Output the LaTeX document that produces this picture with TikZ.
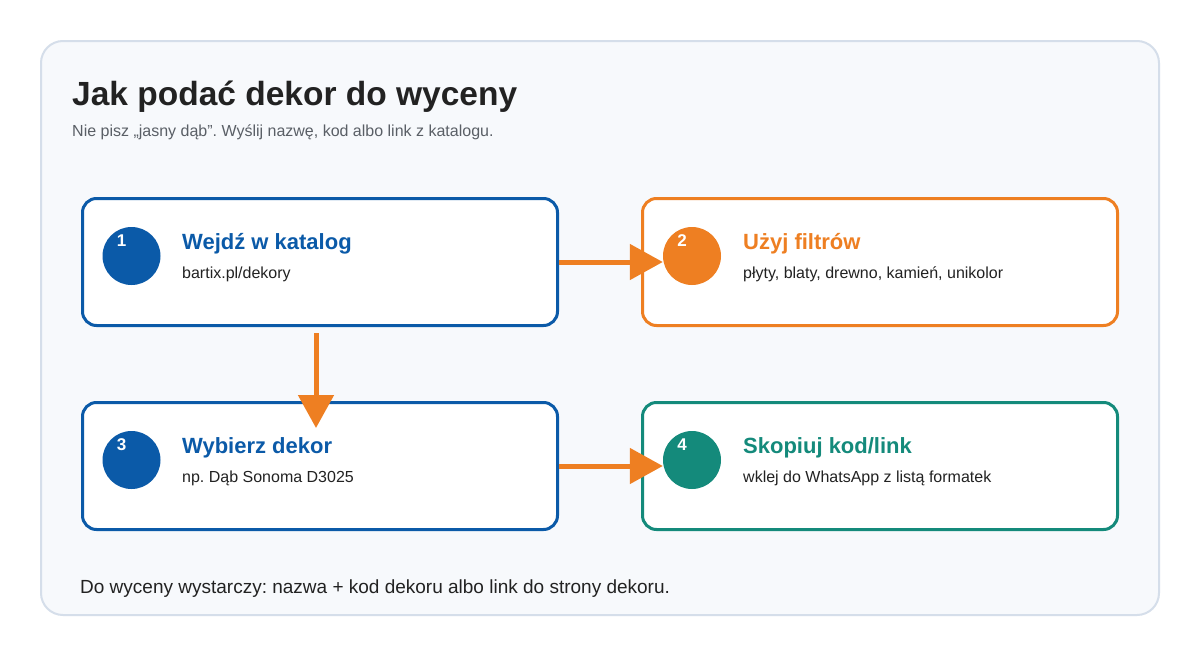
\documentclass[tikz,border=0pt]{standalone}
\usepackage{fontspec}
\setmainfont{Liberation Sans}
\usetikzlibrary{arrows.meta,calc}
\definecolor{panelfill}{HTML}{F7F9FC}
\definecolor{panelline}{HTML}{D5DEEA}
\definecolor{cblue}{HTML}{0B5AA8}
\definecolor{corange}{HTML}{EE7F22}
\definecolor{cteal}{HTML}{148A7B}
\definecolor{ctext}{HTML}{222222}
\definecolor{csub}{HTML}{5A5F66}
\frenchspacing
\tikzset{
  stepbox/.style={draw=#1, line width=3pt, fill=white, rounded corners=14pt,
    minimum width=475pt, minimum height=127pt, inner sep=0pt},
  badge/.style={circle, fill=#1, minimum size=58pt, inner sep=0pt},
  badgenum/.style={text=white, font=\fontsize{17}{20}\selectfont\bfseries, anchor=center, inner sep=0pt},
  steptitle/.style={text=#1, font=\fontsize{22}{26}\selectfont\bfseries, anchor=base west, inner sep=0pt},
  stepsub/.style={text=ctext, font=\fontsize{16}{19}\selectfont, anchor=base west, inner sep=0pt},
  arr/.style={draw=corange, line width=5pt, -{Triangle[length=33pt,width=35pt]}},
}
\begin{document}
\begin{tikzpicture}[x=1pt,y=-1pt]
\frenchspacing
\useasboundingbox (0,0) rectangle (1200,656);
\fill[white] (0,0) rectangle (1200,656);
\draw[panelline, fill=panelfill, line width=2pt, rounded corners=22pt] (41,41) rectangle (1159,615);

\node[anchor=base west, inner sep=0pt, text=ctext, font=\fontsize{33.5}{40}\selectfont\bfseries] (title) at (72,105) {Jak podać dekor do wyceny};
\node[anchor=base west, inner sep=0pt, text=csub, font=\fontsize{16}{19}\selectfont] (subtitle) at (72,136) {Nie pisz „jasny dąb”. Wyślij nazwę, kod albo link z katalogu.};

% boxes
\node[stepbox=cblue] (b1) at (320,262) {};
\node[stepbox=corange] (b2) at (880,262) {};
\node[stepbox=cblue] (b3) at (320,466) {};
\node[stepbox=cteal] (b4) at (880,466) {};

% badges
\node[badge=cblue] (c1) at (131.5,256) {};
\node[badge=corange] (c2) at (692,256) {};
\node[badge=cblue] (c3) at (131.5,460) {};
\node[badge=cteal] (c4) at (692,460) {};
\node[badgenum] (n1) at (121.5,241) {1};
\node[badgenum] (n2) at (682,241) {2};
\node[badgenum] (n3) at (121.5,445) {3};
\node[badgenum] (n4) at (682,445) {4};

% texts
\node[steptitle=cblue] (t1) at (182,249) {Wejdź w katalog};
\node[stepsub] (s1) at (182,278) {bartix.pl/dekory};
\node[steptitle=corange] (t2) at (743,249) {Użyj filtrów};
\node[stepsub] (s2) at (743,278) {płyty, blaty, drewno, kamień, unikolor};
\node[steptitle=cblue] (t3) at (182,453) {Wybierz dekor};
\node[stepsub] (s3) at (182,482) {np. Dąb Sonoma D3025};
\node[steptitle=cteal] (t4) at (743,453) {Skopiuj kod/link};
\node[stepsub] (s4) at (743,482) {wklej do WhatsApp z listą formatek};

% arrows
\draw[arr] (b1.east) -- (c2.west |- b1.east);
\draw[arr] ([xshift=-4pt,yshift=-6pt]b1.south) -- ([xshift=-4pt,yshift=-27pt]b3.north);
\draw[arr] (b3.east) -- (c4.west |- b3.east);

\node[anchor=base west, inner sep=0pt, text=ctext, font=\fontsize{19}{23}\selectfont] (footer) at (80,593) {Do wyceny wystarczy: nazwa + kod dekoru albo link do strony dekoru.};
\end{tikzpicture}
\end{document}
